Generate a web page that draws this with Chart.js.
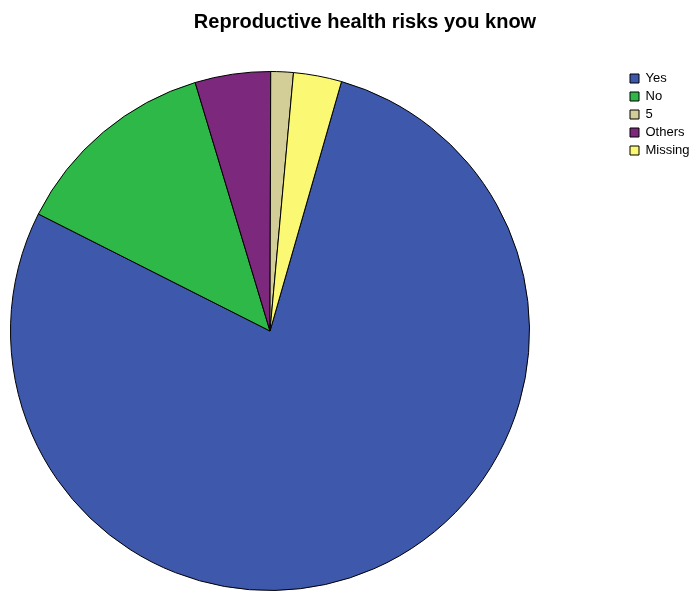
<!DOCTYPE html>
<html>
<head>
<meta charset="utf-8">
<title>Reproductive health risks you know</title>
<script src="https://cdn.jsdelivr.net/npm/chart.js@4/dist/chart.umd.min.js"></script>
<style>
  html, body { margin: 0; padding: 0; background: #fff; }
  canvas { display: block; }
</style>
</head>
<body>
<canvas id="risks" width="695" height="593"></canvas>
<script>
// answers in the order the slices go round (clockwise, starting at Yes)
const categories = ['Yes', 'No', 'Others', '5', 'Missing'];
const percents = [78.0, 12.9, 4.7, 1.4, 3.0];
// the legend lists them in the coded order
const legendOrder = ['Yes', 'No', '5', 'Others', 'Missing'];

const sliceColors = {
  'Yes': '#3e58ac',
  'No': '#2eb848',
  '5': '#d3ce97',
  'Others': '#7c287d',
  'Missing': '#fbf873'
};

// pie sits left, legend top right, title a bit right of centre
const placeBoxes = {
  id: 'placeBoxes',
  afterLayout(chart) {
    const area = chart.chartArea;
    area.left = 10; area.right = 530;
    area.top = 71; area.bottom = 591;
    area.width = 520; area.height = 520;

    const legend = chart.legend;
    legend.left = 625; legend.right = 695;
    legend.top = 67; legend.bottom = 200;
    legend.width = 70; legend.height = 133;

    const title = chart.titleBlock;
    title.left = 35; title.right = 695;
  }
};

const ctx = document.getElementById('risks').getContext('2d');
const riskChart = new Chart(ctx, {
  type: 'pie',
  data: {
    labels: categories,
    datasets: [{
      data: percents,
      backgroundColor: categories.map(c => sliceColors[c]),
      borderColor: '#000',
      borderWidth: 1
    }]
  },
  options: {
    responsive: false,
    animation: false,
    rotation: 16,
    plugins: {
      title: {
        display: true,
        text: 'Reproductive health risks you know',
        color: '#000',
        font: { family: "'Liberation Sans', Arial, sans-serif", size: 20, weight: 'bold' },
        padding: { top: 10, bottom: 30 }
      },
      legend: {
        position: 'right',
        align: 'start',
        labels: {
          boxWidth: 9,
          boxHeight: 9,
          padding: 5,
          color: '#000',
          font: { family: "'Liberation Sans', Arial, sans-serif", size: 13 },
          sort: (a, b) => legendOrder.indexOf(a.text) - legendOrder.indexOf(b.text)
        }
      },
      tooltip: { enabled: false }
    }
  },
  plugins: [placeBoxes]
});
</script>
</body>
</html>
